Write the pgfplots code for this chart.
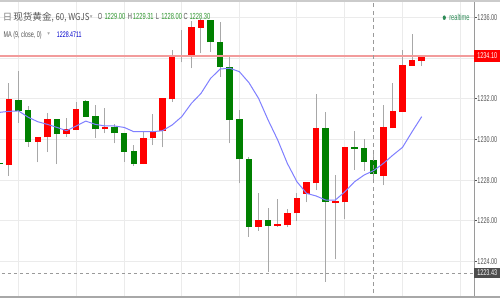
\documentclass[border=0pt]{standalone}
\usepackage{pgfplots}
\pgfplotsset{compat=1.18}
\usepackage{pgfplotstable}
\usepackage{graphicx}
\usepackage{fontspec}
\setmainfont{Liberation Sans}
\newfontfamily\cjk{Noto Sans CJK SC}
\newfontfamily\narrow[FakeStretch=0.65]{Liberation Sans}
\newfontfamily\sym{DejaVu Sans}

\definecolor{upred}{HTML}{FF0000}
\definecolor{downgreen}{HTML}{008000}
\definecolor{wick}{HTML}{A8A8A8}
\definecolor{gridc}{HTML}{EBEBEB}
\definecolor{maline}{HTML}{7F7FFF}
\definecolor{lbl}{HTML}{555555}
\definecolor{ohlc}{HTML}{2F962F}
\definecolor{rt}{HTML}{2E8B57}
\definecolor{priceline}{HTML}{F29B9B}
\definecolor{crossc}{HTML}{9A9A9A}
\definecolor{boxdark}{HTML}{4D4D4D}

% hourly candles: index, open, high, low, close
\pgfplotstableread{
i o h l c
0 1228.74 1232.76 1228.22 1231.97
3 1229.89 1230.13 1228.87 1230.13
4 1230.10 1231.31 1229.37 1230.99
6 1230.27 1231.07 1230.13 1230.50
7 1230.46 1231.84 1230.46 1231.48
10 1230.50 1231.53 1230.30 1230.62
14 1228.79 1230.40 1228.79 1230.08
15 1230.05 1231.25 1229.72 1230.41
16 1230.41 1232.02 1229.61 1232.02
17 1231.97 1234.39 1231.85 1234.06
18 1234.06 1235.38 1233.79 1234.12
19 1234.06 1235.83 1233.49 1235.51
20 1235.49 1235.90 1234.23 1235.87
26 1225.71 1227.38 1225.51 1226.04
28 1225.76 1227.09 1225.70 1225.84
29 1225.79 1226.58 1225.68 1226.37
30 1226.37 1227.38 1226.00 1227.11
31 1227.32 1227.89 1226.90 1227.89
32 1227.84 1232.23 1227.51 1230.54
34 1226.89 1228.25 1224.11 1226.97
35 1226.91 1229.61 1226.09 1229.61
39 1228.22 1231.69 1227.76 1230.59
40 1230.54 1232.79 1230.54 1231.40
41 1231.36 1234.39 1231.36 1233.66
42 1233.61 1235.18 1233.61 1233.90
43 1233.87 1234.10 1233.62 1234.10
}\upcandles

\pgfplotstableread{
i o h l c
-1 1228.86 1228.90 1228.70 1228.78
1 1231.92 1233.36 1230.82 1231.40
2 1231.43 1231.64 1229.64 1229.89
5 1230.99 1230.99 1228.78 1230.27
8 1231.89 1231.95 1231.12 1231.12
9 1231.15 1231.69 1230.08 1230.50
11 1230.62 1230.74 1229.81 1230.30
12 1230.33 1230.33 1228.90 1229.40
13 1229.43 1229.73 1228.69 1228.79
21 1235.87 1235.87 1234.30 1234.77
22 1234.80 1235.78 1233.08 1233.57
23 1233.57 1234.15 1229.81 1230.95
24 1230.99 1231.44 1227.84 1229.02
25 1229.04 1229.15 1225.22 1225.71
27 1226.04 1226.61 1223.50 1225.76
33 1230.54 1231.36 1223.00 1226.94
36 1229.61 1230.43 1228.50 1229.53
37 1229.56 1230.02 1228.46 1228.90
38 1229.00 1229.31 1228.00 1228.30
}\downcandles

% MA(9, close)
\pgfplotstableread{
i ma
-1 1231.33
0 1231.38
1 1231.40
2 1231.09
3 1230.87
4 1230.74
5 1230.59
6 1230.43
7 1230.66
8 1230.90
9 1230.74
10 1230.66
11 1230.66
12 1230.59
13 1230.38
14 1230.38
15 1230.38
16 1230.43
17 1230.71
18 1231.12
19 1231.77
20 1232.26
21 1233.00
22 1233.46
23 1233.50
24 1233.33
25 1232.79
26 1232.02
27 1230.95
28 1229.97
29 1228.82
30 1227.92
31 1227.35
32 1227.22
33 1227.02
34 1227.02
35 1227.43
36 1227.92
37 1228.25
38 1228.47
39 1228.82
40 1229.23
41 1229.61
42 1230.38
43 1231.12
}\madata

\begin{document}
\begin{tikzpicture}
\useasboundingbox (0,0) rectangle (375pt,225pt);
\clip (0,0) rectangle (375pt,225pt);
\fill[white] (0,0) rectangle (375pt,225pt);
\begin{axis}[
  at={(0pt,2.475pt)}, anchor=south west,
  scale only axis, width=355.5pt, height=220.65pt,
  xmin=-0.9377, xmax=48.448, ymin=1222.27, ymax=1236.73,
  axis line style={draw=none},
  xtick={1,7,12,18,24,30,35,41,47}, xticklabels={},
  x tick style={draw=none},
  ytick={1224,1226,1228,1230,1232,1234,1236},
  yticklabels={1224.00,1226.00,1228.00,1230.00,1232.00,1234.00,1236.00},
  ytick pos=right, yticklabel pos=right,
  tick align=outside, major tick length=2pt,
  y tick style={draw=lbl, line width=0.6pt},
  yticklabel style={font=\narrow\fontsize{6.3pt}{7pt}\selectfont, text=lbl, anchor=west, inner xsep=0pt, xshift=0.4pt},
  xmajorgrids, ymajorgrids,
  grid style={draw=gridc, line width=0.75pt},
]
% wicks
\addplot[draw=none, mark=none, forget plot, error bars/.cd, y dir=plus, y explicit, error mark=none,
  error bar style={draw=wick, line width=0.75pt}]
  table[x=i, y=l, y error expr=\thisrow{h}-\thisrow{l}] {\upcandles};
\addplot[draw=none, mark=none, forget plot, error bars/.cd, y dir=plus, y explicit, error mark=none,
  error bar style={draw=wick, line width=0.75pt}]
  table[x=i, y=l, y error expr=\thisrow{h}-\thisrow{l}] {\downcandles};
% bodies
\addplot[draw=none, mark=none, forget plot, error bars/.cd, y dir=plus, y explicit, error mark=none,
  error bar style={draw=upred, line width=4.9pt, line cap=butt}]
  table[x=i, y=o, y error expr=\thisrow{c}-\thisrow{o}] {\upcandles};
\addplot[draw=none, mark=none, forget plot, error bars/.cd, y dir=plus, y explicit, error mark=none,
  error bar style={draw=downgreen, line width=4.9pt, line cap=butt}]
  table[x=i, y=c, y error expr=\thisrow{o}-\thisrow{c}] {\downcandles};
% moving average
\addplot[maline, line width=0.75pt, mark=none] table[x=i, y=ma] {\madata};
% last price and crosshair
\draw[priceline, line width=0.8pt] (axis cs:-2,1234.10) -- (axis cs:50,1234.10);
\draw[crossc, line width=0.6pt, dash pattern=on 2.5pt off 2pt] (axis cs:-2,1223.43) -- (axis cs:50,1223.43);
\draw[crossc, line width=0.6pt, dash pattern=on 3pt off 2.5pt] (axis cs:38,1221) -- (axis cs:38,1238);
\coordinate (pl) at (axis cs:48.448,1234.10);
\coordinate (ch) at (axis cs:48.448,1223.43);
\coordinate (br) at (axis cs:48.448,1222.27);
\coordinate (tr) at (axis cs:48.448,1236.73);
\end{axis}
% price scale border and bottom rule
\draw[draw=crossc, line width=0.75pt] (br) -- (tr);
\draw[draw=wick, line width=1.1pt] (0pt,2.2pt) -- (375pt,2.2pt);
\node[fill=upred, text=white, anchor=west, inner xsep=2.3pt, inner ysep=0pt, minimum height=9.5pt,
  font=\narrow\fontsize{6.3pt}{7pt}\selectfont] at (pl) {1234.10};
\node[fill=boxdark, text=white, anchor=west, inner xsep=2.3pt, inner ysep=0pt, minimum height=8pt,
  font=\narrow\fontsize{6.3pt}{7pt}\selectfont] at (ch) {1223.43};
\begin{scope}[x=0.75pt, y=-0.75pt, shift={(0pt,225pt)}]
  \fill[gridc!70!gray] (0,0) rectangle (500,2);
  % symbol header
  \node[anchor=base west, inner sep=0pt, text=gray, font=\cjk\fontsize{7pt}{8pt}\selectfont] at (2.5,20.8) {日};
  \node[anchor=base west, inner sep=0pt, text=lbl, font=\cjk\fontsize{7.2pt}{8pt}\selectfont] at (13,20.8)
    {现货黄金\scalebox{0.82}[1]{, 60, WGJS}};
  \node[anchor=base west, inner sep=0pt, text=gray!70, font=\sym\fontsize{4pt}{5pt}\selectfont] at (89.5,18.5) {▾};
  \begin{scope}[every node/.style={anchor=base west, inner sep=0pt, font=\narrow\fontsize{6.6pt}{7pt}\selectfont}]
    \node[text=lbl] at (97.7,20) {O};
    \node[text=ohlc] at (104.3,20) {1229.00};
    \node[text=lbl] at (127.7,20) {H};
    \node[text=ohlc] at (132.7,20) {1229.31};
    \node[text=lbl] at (155.7,20) {L};
    \node[text=ohlc] at (161,20) {1228.00};
    \node[text=lbl] at (183.3,20) {C};
    \node[text=ohlc] at (189.3,20) {1228.30};
  \end{scope}
  % indicator header
  \node[anchor=base west, inner sep=0pt, text=lbl, font=\narrow\fontsize{6.3pt}{7pt}\selectfont] at (3.3,37.3) {MA (9, close, 0)};
  \node[anchor=base west, inner sep=0pt, text=gray!70, font=\sym\fontsize{4pt}{5pt}\selectfont] at (47,36) {▾};
  \node[anchor=base west, inner sep=0pt, text=blue!80!black, font=\narrow\fontsize{6.1pt}{7pt}\selectfont] at (56.7,37.3) {1228.4711};
  % live status
  \fill[rt] (444.3,17.7) ellipse (1.6 and 2.3);
  \node[anchor=base west, inner sep=0pt, text=rt, font=\narrow\fontsize{6.6pt}{7pt}\selectfont] at (449,20.5) {realtime};
\end{scope}
\end{tikzpicture}
\end{document}
